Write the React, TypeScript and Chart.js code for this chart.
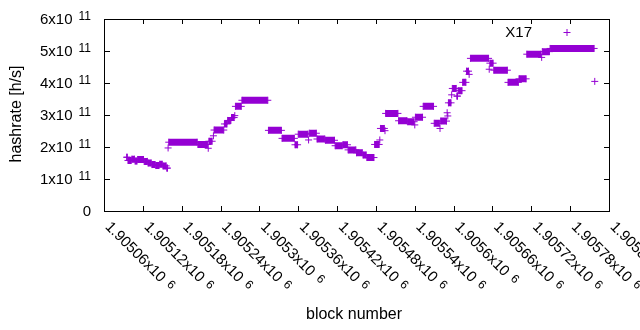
import React, { useEffect, useRef } from "react";
import { Chart, registerables } from "chart.js";
Chart.register(...registerables);

// Runs of consecutive blocks sharing the same estimated hashrate (h/s)
const runStart = [
  1905095, 1905097, 1905103, 1905108, 1905112, 1905122, 1905128, 1905134, 1905140, 1905146, 1905151, 1905157,
  1905159, 1905160, 1905205, 1905221, 1905222, 1905229, 1905230, 1905246, 1905251, 1905257, 1905262, 1905263, 1905273,
  1905314, 1905335, 1905355, 1905360, 1905376, 1905377, 1905389, 1905402, 1905417, 1905429, 1905437, 1905450, 1905460,
  1905466, 1905478, 1905486, 1905487, 1905494, 1905495, 1905515, 1905529, 1905540, 1905541, 1905553, 1905570, 1905579,
  1905580, 1905590, 1905591, 1905592, 1905597, 1905598, 1905605, 1905607, 1905614, 1905620, 1905624, 1905626, 1905655,
  1905656, 1905662, 1905684, 1905701, 1905713, 1905736, 1905737, 1905749, 1905818,
];
const runEnd = [
  1905096, 1905102, 1905107, 1905111, 1905121, 1905127, 1905133, 1905139, 1905145, 1905150, 1905156, 1905158,
  1905159, 1905204, 1905220, 1905221, 1905227, 1905229, 1905245, 1905250, 1905256, 1905261, 1905262, 1905272, 1905313,
  1905334, 1905354, 1905359, 1905375, 1905376, 1905388, 1905401, 1905416, 1905428, 1905436, 1905449, 1905459, 1905465,
  1905477, 1905485, 1905486, 1905493, 1905494, 1905514, 1905528, 1905539, 1905540, 1905552, 1905569, 1905578, 1905579,
  1905589, 1905590, 1905591, 1905596, 1905597, 1905604, 1905606, 1905613, 1905619, 1905623, 1905624, 1905654, 1905655,
  1905661, 1905683, 1905700, 1905712, 1905735, 1905736, 1905748, 1905817, 1905818,
];
const runRate = [
  1.68e11, 1.58e11, 1.62e11, 1.56e11, 1.61e11, 1.55e11, 1.5e11, 1.45e11, 1.42e11, 1.46e11, 1.41e11, 1.34e11,
  1.97e11, 2.15e11, 2.08e11, 1.96e11, 2.18e11, 2.35e11, 2.53e11, 2.72e11, 2.83e11, 2.92e11, 2.98e11, 3.27e11, 3.46e11,
  2.52e11, 2.27e11, 2.07e11, 2.4e11, 2.22e11, 2.43e11, 2.25e11, 2.21e11, 2.04e11, 2.07e11, 1.91e11, 1.82e11, 1.75e11,
  1.67e11, 2.08e11, 2.22e11, 2.58e11, 2.51e11, 3.05e11, 2.82e11, 2.79e11, 2.69e11, 2.93e11, 3.27e11, 2.74e11, 2.58e11,
  2.81e11, 3.07e11, 2.97e11, 3.38e11, 3.63e11, 3.83e11, 3.59e11, 3.76e11, 4.02e11, 4.37e11, 4.27e11, 4.77e11, 4.43e11,
  4.62e11, 4.4e11, 4.02e11, 4.13e11, 4.9e11, 4.8e11, 4.98e11, 5.08e11, 4.05e11,
];

const xTicks = [1905060, 1905120, 1905180, 1905240, 1905300, 1905360, 1905420, 1905480, 1905540, 1905600, 1905660, 1905720, 1905780, 1905840];
const xTickLabels = ["1.90506", "1.90512", "1.90518", "1.90524", "1.9053", "1.90536", "1.90542", "1.90548", "1.90554", "1.9056", "1.90566", "1.90572", "1.90578", "1.90584"];
const xTickExp = "6";
const yTicks = [0, 1e11, 2e11, 3e11, 4e11, 5e11, 6e11];
const yTickLabels = ["0", "1", "2", "3", "4", "5", "6"];
const yTickExp = "11";

const seriesName = "X17";
const xTitle = "block number";
const yTitle = "hashrate [h/s]";

const COLOR = "#9400D3";
const FONT = '"Liberation Sans", Arial, sans-serif';
const FS = 15;
const TFS = 16;
const SUP = 12;

const gnuplotFrame = {
  id: "gnuplotFrame",
  afterDraw(chart: any) {
    const { ctx, chartArea: a, scales } = chart;
    const xs = scales.x;
    const ys = scales.y;
    ctx.save();
    ctx.strokeStyle = "#000";
    ctx.lineWidth = 1;
    ctx.beginPath();
    ctx.rect(a.left + 0.5, a.top + 0.5, a.right - a.left, a.bottom - a.top);
    ctx.stroke();
    ctx.beginPath();
    yTicks.forEach((v) => {
      const py = Math.round(ys.getPixelForValue(v)) + 0.5;
      ctx.moveTo(a.left, py);
      ctx.lineTo(a.left + 6, py);
      ctx.moveTo(a.right + 1, py);
      ctx.lineTo(a.right - 5, py);
    });
    xTicks.forEach((v) => {
      const px = Math.round(xs.getPixelForValue(v)) + 0.5;
      ctx.moveTo(px, a.bottom + 1);
      ctx.lineTo(px, a.bottom - 5);
      ctx.moveTo(px, a.top);
      ctx.lineTo(px, a.top + 5);
    });
    ctx.stroke();

    ctx.fillStyle = "#000";
    // y tick labels
    yTicks.forEach((v, i) => {
      const py = ys.getPixelForValue(v);
      const rx = 91;
      ctx.textBaseline = "middle";
      ctx.textAlign = "right";
      if (v === 0) {
        ctx.font = `${FS}px ${FONT}`;
        ctx.fillText(yTickLabels[i], rx, py + 1);
      } else {
        ctx.font = `${SUP}px ${FONT}`;
        const sw = ctx.measureText(yTickExp).width;
        ctx.fillText(yTickExp, rx, py - 2);
        ctx.font = `${FS}px ${FONT}`;
        ctx.fillText(yTickLabels[i] + "x10", rx - sw - 6, py + 1);
      }
    });
    // x tick labels (rotated)
    xTicks.forEach((v, i) => {
      const px = xs.getPixelForValue(v);
      ctx.save();
      ctx.translate(px + 3.5, a.bottom + 13.5);
      ctx.rotate(Math.PI / 4);
      ctx.textAlign = "left";
      ctx.textBaseline = "middle";
      ctx.font = `${FS}px ${FONT}`;
      const main = xTickLabels[i] + "x10";
      ctx.fillText(main, 0, 0);
      const w = ctx.measureText(main).width;
      ctx.font = `${SUP}px ${FONT}`;
      ctx.fillText(xTickExp, w + 6, -2);
      ctx.restore();
    });
    // axis titles
    ctx.font = `${TFS}px ${FONT}`;
    ctx.textAlign = "center";
    ctx.textBaseline = "middle";
    ctx.fillText(xTitle, 354, 315);
    ctx.save();
    ctx.translate(17, 114);
    ctx.rotate(-Math.PI / 2);
    ctx.fillText(yTitle, 0, 0);
    ctx.restore();
    // legend
    ctx.font = `${FS}px ${FONT}`;
    ctx.textAlign = "right";
    ctx.fillText(seriesName, 532, 33);
    ctx.strokeStyle = COLOR;
    ctx.beginPath();
    ctx.moveTo(563.5, 32.5);
    ctx.lineTo(570.5, 32.5);
    ctx.moveTo(567, 29);
    ctx.lineTo(567, 36);
    ctx.stroke();
    ctx.restore();
  },
};

export default function App() {
  const ref = useRef<HTMLCanvasElement>(null);
  useEffect(() => {
    const points: { x: number; y: number | null }[] = [];
    for (let i = 0; i < runStart.length; i++) {
      points.push({ x: runStart[i], y: runRate[i] });
      if (runEnd[i] !== runStart[i]) points.push({ x: runEnd[i], y: runRate[i] });
      points.push({ x: runEnd[i], y: null });
    }
    const chart = new Chart(ref.current as HTMLCanvasElement, {
      type: "line",
      data: {
        datasets: [
          {
            label: seriesName,
            data: points as any,
            borderColor: COLOR,
            backgroundColor: COLOR,
            borderWidth: 7,
            borderCapStyle: "butt",
            tension: 0,
            spanGaps: false,
            pointStyle: "cross",
            pointRadius: 3.5,
            pointBorderWidth: 1,
            pointBorderColor: COLOR,
            pointBackgroundColor: COLOR,
          },
        ],
      },
      options: {
        responsive: false,
        animation: false,
        layout: { padding: { left: 104, right: 31, top: 19, bottom: 119 } },
        scales: {
          x: { type: "linear", min: 1905060, max: 1905840, display: false },
          y: { type: "linear", min: 0, max: 6e11, display: false },
        },
        plugins: { legend: { display: false }, tooltip: { enabled: false } },
      },
      plugins: [gnuplotFrame],
    });
    return () => chart.destroy();
  }, []);
  return (
    <div style={{ position: "fixed", left: 0, top: 0, width: 640, height: 330, background: "#fff" }}>
      <canvas ref={ref} width={640} height={330} style={{ display: "block", width: 640, height: 330 }} />
    </div>
  );
}
